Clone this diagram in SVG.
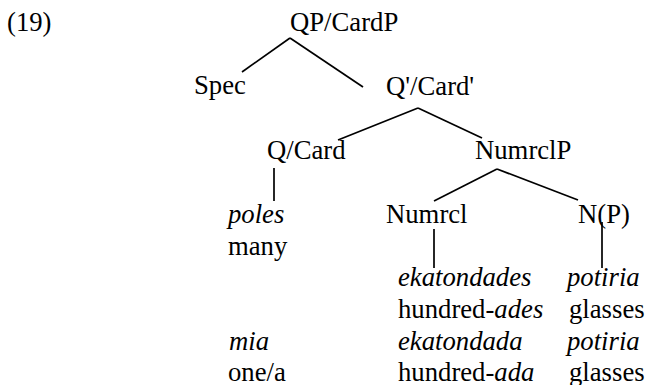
<svg xmlns="http://www.w3.org/2000/svg" width="647" height="385" viewBox="0 0 647 385">
<style>
text{font-size:26.7px;fill:#000}
.i{font-style:italic}
#edges line{stroke:#000;stroke-width:1.7;stroke-linecap:butt}
</style>
<rect width="647" height="385" fill="#fff"/>
<g font-family="'Liberation Serif', 'DejaVu Serif', 'Times New Roman', Times, serif">
<text x="7" y="31">(19)</text>
<g id="edges">
<line x1="290" y1="38" x2="242" y2="72"/>
<line x1="290" y1="38" x2="363" y2="87"/>
<line x1="418" y1="108" x2="338" y2="140"/>
<line x1="418" y1="108" x2="482" y2="138"/>
<line x1="274" y1="168" x2="274" y2="201"/>
<line x1="497" y1="169" x2="434" y2="201"/>
<line x1="497" y1="169" x2="578" y2="200"/>
<line x1="434" y1="229" x2="434" y2="268"/>
<line x1="602" y1="222" x2="602" y2="268"/>
</g>
<g id="QP"><text x="290" y="31">QP/CardP</text></g>
<g id="Spec"><text x="194" y="94">Spec</text></g>
<g id="Qbar"><text x="386" y="95">Q'/Card'</text></g>
<g id="QCard"><text x="267" y="159">Q/Card</text></g>
<g id="NumrclP"><text x="475" y="159">NumrclP</text></g>
<g id="Numrcl"><text x="386" y="223">Numrcl</text></g>
<g id="NP"><text x="578" y="223">N(P)</text></g>
<g id="poles"><text x="228" y="223" class="i">poles</text><text x="228" y="255">many</text></g>
<g id="mia"><text x="229" y="350" class="i">mia</text><text x="228" y="381">one/a</text></g>
<g id="ekatondades"><text x="398" y="286" class="i">ekatondades</text><text x="398" y="318">hundred-<tspan class="i">ades</tspan></text></g>
<g id="ekatondada"><text x="398" y="350" class="i">ekatondada</text><text x="398" y="381">hundred-<tspan class="i">ada</tspan></text></g>
<g id="potiria1"><text x="567" y="286" class="i">potiria</text><text x="569" y="318">glasses</text></g>
<g id="potiria2"><text x="567" y="350" class="i">potiria</text><text x="569" y="381">glasses</text></g>
</g>
</svg>
